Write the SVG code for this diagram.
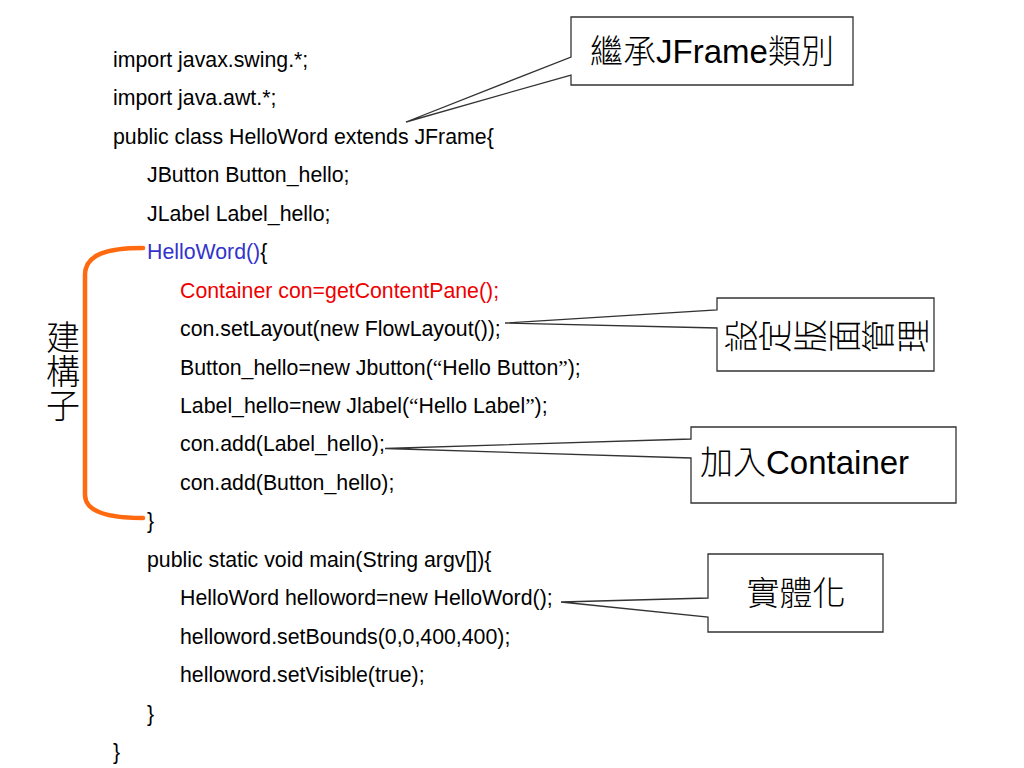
<svg xmlns="http://www.w3.org/2000/svg" width="1024" height="768" viewBox="0 0 1024 768">
<style>
.code{font-family:"Liberation Sans",Arial,sans-serif;font-size:21.3px;fill:#000}
.q{font-family:"Liberation Serif","Times New Roman",serif}
.blue{fill:#3333cc}
.red{fill:#ee0000}
.callout{fill:#fff;stroke:#333;stroke-width:1.3;stroke-linejoin:miter}
.lbl{font-family:"Liberation Sans","Noto Sans CJK TC",sans-serif;font-size:33px;fill:#000}
.lt{font-family:"Noto Sans CJK TC",sans-serif;font-weight:300}
.cjk{font-family:"Noto Sans CJK TC",sans-serif;font-weight:300;fill:#000}
.brace{fill:none;stroke:#ff6a10;stroke-width:4.5;stroke-linecap:round}
</style>
<rect width="1024" height="768" fill="#fff"/>
<g id="code">
<text class="code" x="113" y="67">import javax.swing.*;</text>
<text class="code" x="113" y="105.4">import java.awt.*;</text>
<text class="code" x="113" y="143.9">public class HelloWord extends JFrame{</text>
<text class="code" x="147" y="182.3">JButton Button_hello;</text>
<text class="code" x="147" y="220.8">JLabel Label_hello;</text>
<text class="code" x="147" y="259.2"><tspan class="blue">HelloWord()</tspan>{</text>
<text class="code red" x="180" y="297.6">Container con=getContentPane();</text>
<text class="code" x="180" y="336.1">con.setLayout(new FlowLayout());</text>
<text class="code" x="180" y="374.5">Button_hello=new Jbutton(<tspan class="q">“</tspan>Hello Button<tspan class="q">”</tspan>);</text>
<text class="code" x="180" y="413">Label_hello=new Jlabel(<tspan class="q">“</tspan>Hello Label<tspan class="q">”</tspan>);</text>
<text class="code" x="180" y="451.4">con.add(Label_hello);</text>
<text class="code" x="180" y="489.8">con.add(Button_hello);</text>
<text class="code" x="147" y="528.3">}</text>
<text class="code" x="147" y="566.7">public static void main(String argv[]){</text>
<text class="code" x="180" y="605.2">HelloWord helloword=new HelloWord();</text>
<text class="code" x="180" y="643.6">helloword.setBounds(0,0,400,400);</text>
<text class="code" x="180" y="682">helloword.setVisible(true);</text>
<text class="code" x="147" y="720.5">}</text>
<text class="code" x="113" y="758.9">}</text>
</g>
<g id="constructor-brace">
<path class="brace" d="M143,248 C108,248 85,254 85,275 L85,495 C85,512 108,518 143,518"/>
<text class="cjk" font-size="34" writing-mode="vertical-rl" x="63" y="320">建構子</text>
</g>
<g id="callout-jframe">
<path class="callout" d="M571,17 H853 V85 H571 V75 L406,122 L571,57 Z"/>
<text class="lbl" x="712" y="63" text-anchor="middle"><tspan class="lt">繼承</tspan>JFrame<tspan class="lt">類別</tspan></text>
</g>
<g id="callout-layout">
<path class="callout" d="M717,298 H934 V371 H717 V328 L505,323 L717,310 Z"/>
<g class="cjk" font-size="34" text-anchor="middle" dominant-baseline="central">
<text x="739" y="336" transform="rotate(-90 739 336)">設</text>
<text x="773" y="336" transform="rotate(-90 773 336)">定</text>
<text x="808" y="336" transform="rotate(-90 808 336)">版</text>
<text x="842" y="336" transform="rotate(-90 842 336)">面</text>
<text x="876" y="336" transform="rotate(-90 876 336)">管</text>
<text x="911" y="336" transform="rotate(-90 911 336)">理</text>
</g>
</g>
<g id="callout-container">
<path class="callout" d="M691,427 H956 V503 H691 V458 L385,448.5 L691,439 Z"/>
<text class="lbl" x="700" y="474"><tspan class="lt">加入</tspan>Container</text>
</g>
<g id="callout-instance">
<path class="callout" d="M708,554 H883 V632 H708 V617 L561,602 L708,598 Z"/>
<text class="cjk" font-size="33" x="796" y="605" text-anchor="middle">實體化</text>
</g>
</svg>
